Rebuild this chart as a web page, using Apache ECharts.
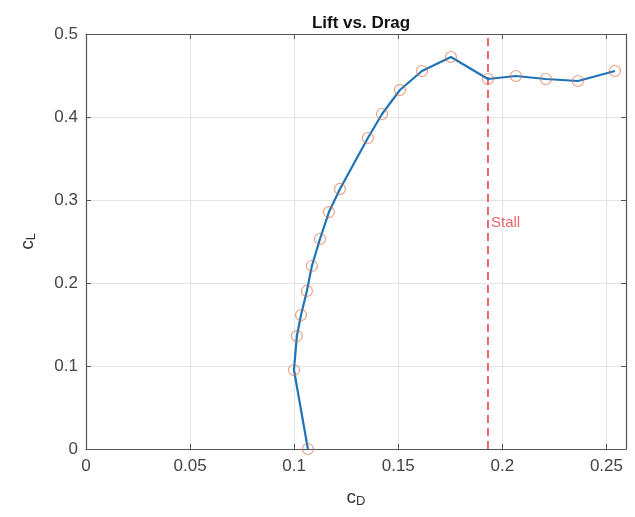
<!DOCTYPE html>
<html>
<head>
<meta charset="utf-8">
<script src="https://cdn.jsdelivr.net/npm/echarts@6/dist/echarts.min.js"></script>
<style>
  html, body { margin: 0; padding: 0; background: #fff; }
  #main { width: 635px; height: 517px; }
</style>
</head>
<body>
<div id="main"></div>
<script>
// drag / lift coefficients
var cd = [0.1066, 0.0999, 0.1013, 0.1033, 0.1061, 0.1085, 0.1124, 0.1167, 0.1220, 0.1354,
          0.1422, 0.1508, 0.1614, 0.1753, 0.1931, 0.2065, 0.2209, 0.2363, 0.2541];
var cl = [0.000, 0.0952, 0.1361, 0.1614, 0.1904, 0.2205, 0.2530, 0.2855, 0.3133, 0.3747,
          0.4036, 0.4325, 0.4554, 0.4723, 0.4458, 0.4494, 0.4458, 0.4434, 0.4554];
var stallCd = 0.1931;
var stallLabelCl = 0.272;
var stallLine = [0, 0.5];
var xMax = 0.2594;

var points = cd.map(function (x, i) { return [x, cl[i]]; });

var myChart = echarts.init(document.getElementById('main'));
var font = 'Liberation Sans, Arial, sans-serif';
var axisCol = '#555';

var option = {
    animation: false,
    backgroundColor: '#fff',
    title: {
        text: 'Lift vs. Drag',
        left: 356, top: 10, textAlign: 'center',
        textStyle: { fontFamily: font, fontSize: 17, fontWeight: 'bold', color: '#111' }
    },
    grid: { left: 86, top: 34, right: 9, bottom: 68 },
    xAxis: [{
        type: 'value', min: 0, max: xMax, interval: 0.05,
        name: '{c|c}{s|D}', nameLocation: 'middle', nameGap: 28,
        nameTextStyle: {
            rich: {
                c: { fontFamily: font, fontSize: 19, color: '#333', verticalAlign: 'top', lineHeight: 20 },
                s: { fontFamily: font, fontSize: 13, color: '#333', verticalAlign: 'bottom', lineHeight: 12, padding: [15, 0, 0, 0] }
            }
        },
        axisLine: { show: true, onZero: false, lineStyle: { color: axisCol, width: 1.2 } },
        axisTick: { show: true, inside: true, length: 5, lineStyle: { color: axisCol } },
        axisLabel: { fontFamily: font, fontSize: 17, color: '#444', margin: 9, showMaxLabel: false },
        splitLine: { show: true, lineStyle: { color: '#e4e4e4', width: 1 } }
    }, {
        type: 'value', position: 'top', min: 0, max: xMax, interval: 0.05,
        axisLine: { show: true, onZero: false, lineStyle: { color: axisCol, width: 1.2 } },
        axisTick: { show: true, inside: true, length: 5, lineStyle: { color: axisCol } },
        axisLabel: { show: false },
        splitLine: { show: false }
    }],
    yAxis: [{
        type: 'value', min: 0, max: 0.5, interval: 0.1,
        name: '{c|c}{s|L}', nameLocation: 'middle', nameGap: 48, nameRotate: 90,
        nameTextStyle: {
            rich: {
                c: { fontFamily: font, fontSize: 19, color: '#333', verticalAlign: 'top', lineHeight: 20 },
                s: { fontFamily: font, fontSize: 13, color: '#333', verticalAlign: 'bottom', lineHeight: 12, padding: [15, 0, 0, 0] }
            }
        },
        axisLine: { show: true, onZero: false, lineStyle: { color: axisCol, width: 1.2 } },
        axisTick: { show: true, inside: true, length: 5, lineStyle: { color: axisCol } },
        axisLabel: { fontFamily: font, fontSize: 17, color: '#444', margin: 8 },
        splitLine: { show: true, lineStyle: { color: '#e4e4e4', width: 1 } }
    }, {
        type: 'value', position: 'right', min: 0, max: 0.5, interval: 0.1,
        axisLine: { show: true, onZero: false, lineStyle: { color: axisCol, width: 1.2 } },
        axisTick: { show: true, inside: true, length: 5, lineStyle: { color: axisCol } },
        axisLabel: { show: false },
        splitLine: { show: false }
    }],
    series: [{
        type: 'line',
        data: points,
        showSymbol: false,
        symbol: 'none',
        lineStyle: { color: '#1f74b8', width: 2.2 },
        z: 3
    }, {
        type: 'scatter',
        data: points,
        symbol: 'circle',
        symbolSize: 11,
        itemStyle: { color: 'rgba(0,0,0,0)', borderColor: 'rgba(214,110,70,0.8)', borderWidth: 1.2 },
        z: 4
    }, {
        type: 'line',
        data: stallLine.map(function (y) { return [stallCd, y]; }),
        symbol: 'none',
        lineStyle: { color: '#ee4050', width: 1.6, type: [8, 5] },
        z: 2
    }, {
        type: 'scatter',
        data: [[stallCd, stallLabelCl]],
        symbolSize: 0,
        label: {
            show: true, position: 'right', distance: 3, formatter: 'Stall',
            fontFamily: font, fontSize: 15, color: '#e0404a'
        },
        z: 5
    }]
};
myChart.setOption(option);
</script>
</body>
</html>
